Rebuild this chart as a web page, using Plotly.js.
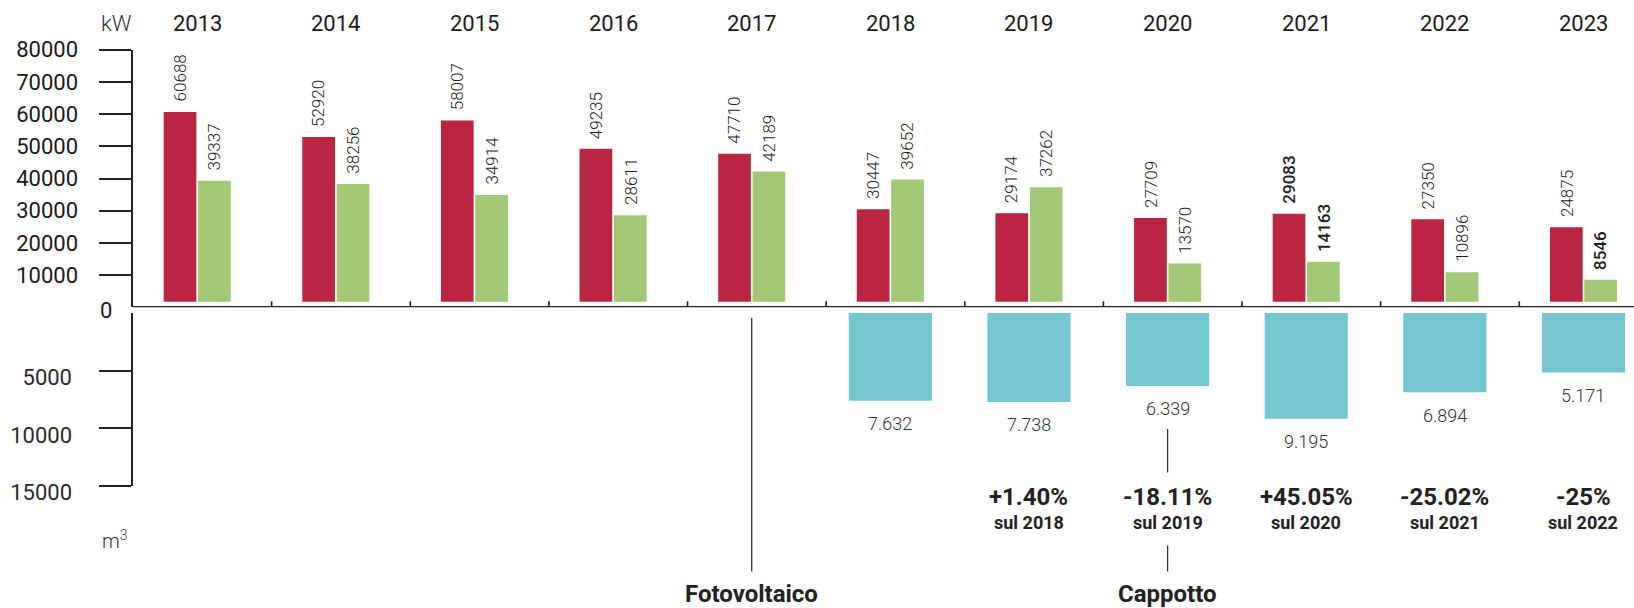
<!DOCTYPE html>
<html>
<head>
<meta charset="utf-8">
<script src="https://cdn.plot.ly/plotly-3.0.1.min.js"></script>
<style>
  html, body { margin: 0; padding: 0; background: #ffffff; }
  #chart { width: 1634px; height: 608px; }
</style>
</head>
<body>
<div id="chart"></div>
<script>
// ---------- data ----------
const years = [2013, 2014, 2015, 2016, 2017, 2018, 2019, 2020, 2021, 2022, 2023];
const redValues = [60688, 52920, 58007, 49235, 47710, 30447, 29174, 27709, 29083, 27350, 24875];
const greenValues = [39337, 38256, 34914, 28611, 42189, 39652, 37262, 13570, 14163, 10896, 8546];
const cyanYears = [2018, 2019, 2020, 2021, 2022, 2023];
const cyanValues = [7632, 7738, 6339, 9195, 6894, 5171];
const cyanLabels = ['7.632', '7.738', '6.339', '9.195', '6.894', '5.171'];
const changeYears = [2019, 2020, 2021, 2022, 2023];
const changeLabels = ['+1.40%', '-18.11%', '+45.05%', '-25.02%', '-25%'];
const changeRefs = ['sul 2018', 'sul 2019', 'sul 2020', 'sul 2021', 'sul 2022'];
const milestoneYears = [2017, 2020];
const milestoneLabels = ['Fotovoltaico', 'Cappotto'];
const kwTicks = [10000, 20000, 30000, 40000, 50000, 60000, 70000, 80000];
const m3Ticks = [5000, 10000, 15000];
const boldLabelYears = [2021, 2023];

// ---------- style ----------
const RED = '#BA2542';
const GREEN = '#A2C878';
const CYAN = '#76C6D2';
const INK = '#222222';
const FONT = 'Roboto, "Open Sans", sans-serif';
const H = 608;
const py = px => 1 - px / H;          // pixel row -> paper y

const barW = 0.236;
const redOff = -0.242;
const greenOff = 0.006;

const traces = [
  {
    type: 'bar', name: 'kW A', x: years, y: redValues, yaxis: 'y',
    width: barW, offset: redOff, marker: { color: RED }, hoverinfo: 'x+y'
  },
  {
    type: 'bar', name: 'kW B', x: years, y: greenValues, yaxis: 'y',
    width: barW, offset: greenOff, marker: { color: GREEN }, hoverinfo: 'x+y'
  },
  {
    type: 'bar', name: 'm3', x: cyanYears, y: cyanValues, yaxis: 'y2',
    width: 0.6, offset: -0.3, marker: { color: CYAN }, hoverinfo: 'x+y'
  }
];

const annotations = [];

// year headers
years.forEach(yr => annotations.push({
  xref: 'x', yref: 'paper', x: yr, y: py(23.5), text: String(yr),
  showarrow: false, xanchor: 'center', yanchor: 'middle',
  font: { family: FONT, size: 22, color: '#1a1a1a', weight: 400 }
}));

// rotated value labels above bars
function barLabels(vals, off, isGreen) {
  vals.forEach((v, i) => {
    const bold = boldLabelYears.includes(years[i]) && (isGreen || years[i] === 2021);
    annotations.push({
      xref: 'x', yref: 'y', x: years[i] + off + barW / 2, y: v,
      text: String(v), textangle: -90, showarrow: false,
      xanchor: 'center', yanchor: 'bottom', yshift: 8,
      font: { family: FONT, size: 17, color: INK, weight: bold ? 500 : 300 }
    });
  });
}
barLabels(redValues, redOff, false);
barLabels(greenValues, greenOff, true);

// cyan labels below bars
cyanValues.forEach((v, i) => annotations.push({
  xref: 'x', yref: 'y2', x: cyanYears[i], y: v, text: cyanLabels[i],
  showarrow: false, xanchor: 'center', yanchor: 'middle', yshift: -23,
  font: { family: FONT, size: 18, color: '#333333', weight: 300 }
}));

// percentage changes
changeYears.forEach((yr, i) => {
  annotations.push({
    xref: 'x', yref: 'paper', x: yr, y: py(497), text: changeLabels[i],
    showarrow: false, xanchor: 'center', yanchor: 'middle',
    font: { family: FONT, size: 24, color: INK, weight: 700 }
  });
  annotations.push({
    xref: 'x', yref: 'paper', x: yr, y: py(522.5), text: changeRefs[i],
    showarrow: false, xanchor: 'center', yanchor: 'middle',
    font: { family: FONT, size: 18, color: INK, weight: 700 }
  });
});

// milestones
milestoneYears.forEach((yr, i) => annotations.push({
  xref: 'x', yref: 'paper', x: yr, y: py(594), text: milestoneLabels[i],
  showarrow: false, xanchor: 'center', yanchor: 'middle',
  font: { family: FONT, size: 24, color: INK, weight: 700 }
}));

// unit labels and the zero
annotations.push({
  xref: 'paper', yref: 'paper', x: 0, y: py(23.5), text: 'kW',
  showarrow: false, xanchor: 'right', yanchor: 'middle', xshift: 1,
  font: { family: FONT, size: 22, color: '#333333', weight: 300 }
});
annotations.push({
  xref: 'paper', yref: 'paper', x: 0, y: py(540), text: 'm<sup>3</sup>',
  showarrow: false, xanchor: 'left', yanchor: 'middle', xshift: -33,
  font: { family: FONT, size: 20, color: '#333333', weight: 300 }
});
annotations.push({
  xref: 'paper', yref: 'y', x: 0, y: 0, text: '0',
  showarrow: false, xanchor: 'right', yanchor: 'middle', xshift: -19, yshift: -3,
  font: { family: FONT, size: 22, color: '#1a1a1a', weight: 400 }
});

// shapes
const shapes = [];
// white strip lifting bars off the axis line
shapes.push({
  type: 'rect', xref: 'x', yref: 'y',
  x0: years[0] - 0.45, x1: years[years.length - 1] + 0.6,
  y0: 0, y1: 1750, fillcolor: '#ffffff', line: { width: 0 }, layer: 'above'
});
// baseline
shapes.push({
  type: 'line', xref: 'paper', yref: 'y', x0: 0, x1: 1, y0: 0, y1: 0,
  line: { color: INK, width: 2.5 }, layer: 'above'
});
// group boundary ticks
years.slice(1).forEach(yr => shapes.push({
  type: 'line', xref: 'x', yref: 'y', x0: yr - 0.463, x1: yr - 0.463,
  y0: 0, y1: 1900, line: { color: INK, width: 1.6 }, layer: 'above'
}));
// milestone leader lines
shapes.push({
  type: 'line', xref: 'x', yref: 'paper', x0: milestoneYears[0], x1: milestoneYears[0],
  y0: py(318), y1: py(571.5), line: { color: '#333333', width: 1.3 }
});
shapes.push({
  type: 'line', xref: 'x', yref: 'paper', x0: milestoneYears[1], x1: milestoneYears[1],
  y0: py(429), y1: py(472.5), line: { color: '#333333', width: 1.3 }
});
shapes.push({
  type: 'line', xref: 'x', yref: 'paper', x0: milestoneYears[1], x1: milestoneYears[1],
  y0: py(545.5), y1: py(571.5), line: { color: '#333333', width: 1.3 }
});

const layout = {
  width: 1634, height: 608,
  margin: { l: 133, r: 0, t: 0, b: 0, pad: 0 },
  paper_bgcolor: '#ffffff', plot_bgcolor: 'rgba(0,0,0,0)',
  showlegend: false, barmode: 'overlay',
  font: { family: FONT, color: INK },
  xaxis: {
    range: [years[0] - 0.4632, years[0] + (1634 - 197.5) / 138.6],
    showline: false,
    ticks: '', showticklabels: false, showgrid: false, zeroline: false,
    anchor: 'y', fixedrange: true
  },
  yaxis: {
    domain: [py(307.3), py(49.7)], range: [0, 80000],
    tickvals: kwTicks, tickformat: 'd',
    ticks: 'outside', ticklen: 32, tickwidth: 2, tickcolor: INK,
    ticklabelstandoff: 17,
    showline: true, linecolor: INK, linewidth: 1.6,
    showgrid: false, zeroline: false, anchor: 'x', fixedrange: true,
    tickfont: { family: FONT, size: 22, color: '#1a1a1a', weight: 400 }
  },
  yaxis2: {
    domain: [py(485.5), py(313)], range: [15000, 0],
    tickvals: m3Ticks, tickformat: 'd',
    ticks: 'outside', ticklen: 32, tickwidth: 2, tickcolor: INK,
    ticklabelstandoff: 23, ticklabelshift: -7,
    showline: true, linecolor: INK, linewidth: 1.6,
    showgrid: false, zeroline: false, anchor: 'x', fixedrange: true,
    tickfont: { family: FONT, size: 22, color: '#2a2a2a', weight: 400 }
  },
  annotations: annotations,
  shapes: shapes
};

Plotly.newPlot('chart', traces, layout, { displayModeBar: false, staticPlot: true });
</script>
</body>
</html>
